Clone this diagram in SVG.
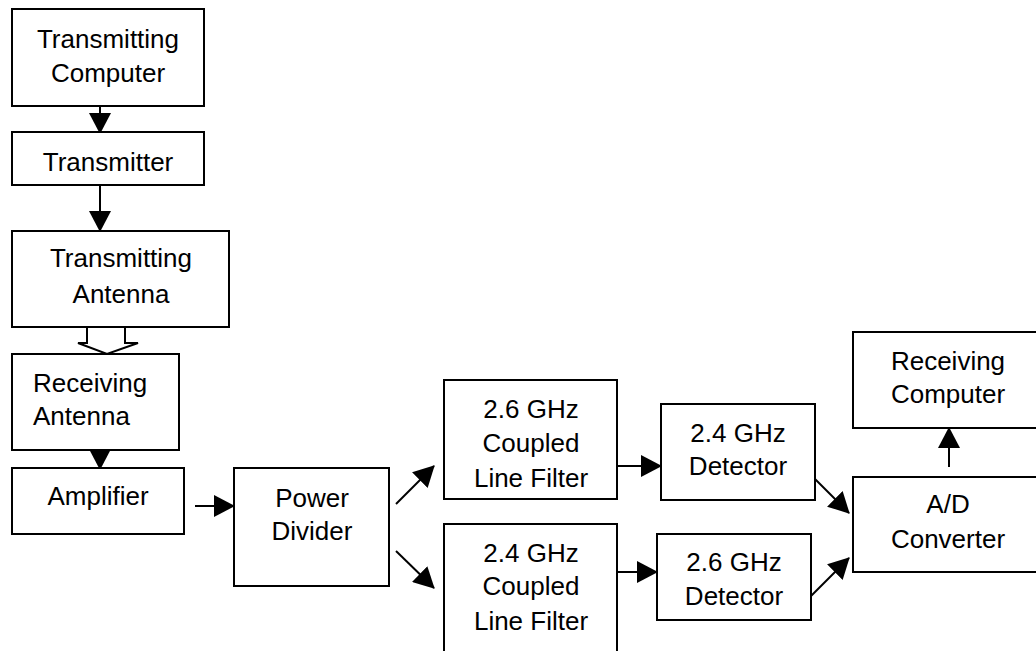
<svg xmlns="http://www.w3.org/2000/svg" width="1036" height="651" viewBox="0 0 1036 651">
<style>
.box{fill:#fff;stroke:#000;stroke-width:2}
.t{font-family:"Liberation Sans",Arial,sans-serif;font-size:26px;fill:#000;text-anchor:middle}
.tl{font-family:"Liberation Sans",Arial,sans-serif;font-size:26px;fill:#000}
.c{fill:none;stroke:#000;stroke-width:2;marker-end:url(#ah)}
</style>
<defs>
<marker id="ah" markerUnits="userSpaceOnUse" markerWidth="22" markerHeight="22" refX="20" refY="11" orient="auto">
<path d="M0,0 L21,11 L0,22 Z" fill="#000"/>
</marker>
</defs>
<rect width="1036" height="651" fill="#fff"/>
<g id="connectors">
<line class="c" x1="100" y1="106" x2="100" y2="133"/>
<line class="c" x1="100" y1="185" x2="100" y2="231"/>
<polygon points="87,327 125,327 125,343 138,343 107,354 78,343 87,343" fill="#fff" stroke="#000" stroke-width="2"/>
<line class="c" x1="100" y1="450" x2="100" y2="469"/>
<line class="c" x1="195" y1="506" x2="234" y2="506"/>
<line class="c" x1="396" y1="504" x2="434" y2="466"/>
<line class="c" x1="396" y1="551" x2="434" y2="588"/>
<line class="c" x1="617" y1="466" x2="661" y2="466"/>
<line class="c" x1="617" y1="572" x2="657" y2="572"/>
<line class="c" x1="811" y1="475" x2="849" y2="513"/>
<line class="c" x1="811" y1="596" x2="849" y2="558"/>
<line class="c" x1="949" y1="467" x2="949" y2="428"/>
</g>
<g id="transmitting-computer">
<rect class="box" x="12" y="9" width="192" height="97"/>
<text class="t" x="108" y="48">Transmitting</text>
<text class="t" x="108" y="82">Computer</text>
</g>
<g id="transmitter">
<rect class="box" x="12" y="132" width="192" height="53"/>
<text class="t" x="108" y="171">Transmitter</text>
</g>
<g id="transmitting-antenna">
<rect class="box" x="12" y="231" width="217" height="96"/>
<text class="t" x="121" y="267">Transmitting</text>
<text class="t" x="121" y="303">Antenna</text>
</g>
<g id="receiving-antenna">
<rect class="box" x="12" y="354" width="167" height="96"/>
<text class="tl" x="33" y="392">Receiving</text>
<text class="tl" x="33" y="425">Antenna</text>
</g>
<g id="amplifier">
<rect class="box" x="12" y="468" width="172" height="66"/>
<text class="t" x="98" y="505">Amplifier</text>
</g>
<g id="power-divider">
<rect class="box" x="234" y="468" width="155" height="118"/>
<text class="t" x="312" y="507">Power</text>
<text class="t" x="312" y="540">Divider</text>
</g>
<g id="filter-26">
<rect class="box" x="444" y="380" width="173" height="119"/>
<text class="t" x="531" y="418">2.6 GHz</text>
<text class="t" x="531" y="452">Coupled</text>
<text class="t" x="531" y="487">Line Filter</text>
</g>
<g id="filter-24">
<rect class="box" x="444" y="524" width="173" height="136"/>
<text class="t" x="531" y="562">2.4 GHz</text>
<text class="t" x="531" y="595">Coupled</text>
<text class="t" x="531" y="630">Line Filter</text>
</g>
<g id="detector-24">
<rect class="box" x="661" y="404" width="154" height="96"/>
<text class="t" x="738" y="442">2.4 GHz</text>
<text class="t" x="738" y="475">Detector</text>
</g>
<g id="detector-26">
<rect class="box" x="657" y="534" width="154" height="86"/>
<text class="t" x="734" y="571">2.6 GHz</text>
<text class="t" x="734" y="605">Detector</text>
</g>
<g id="receiving-computer">
<rect class="box" x="853" y="332" width="191" height="96"/>
<text class="t" x="948" y="370">Receiving</text>
<text class="t" x="948" y="403">Computer</text>
</g>
<g id="ad-converter">
<rect class="box" x="853" y="477" width="191" height="95"/>
<text class="t" x="948" y="513">A/D</text>
<text class="t" x="948" y="548">Converter</text>
</g>
</svg>
